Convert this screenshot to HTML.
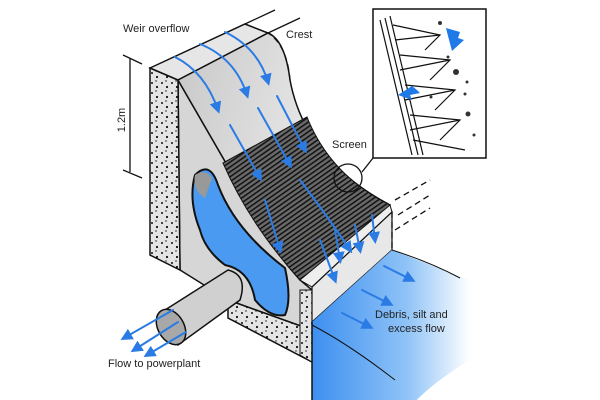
<!DOCTYPE html>
<html><head><meta charset="utf-8"><style>
html,body{margin:0;padding:0;background:#fff;}
svg{display:block}
text{font-family:"Liberation Sans",sans-serif;font-size:11px;fill:#222}
</style></head><body>
<svg width="600" height="400" viewBox="0 0 600 400" xmlns="http://www.w3.org/2000/svg">
<defs>
<marker id="ah" markerWidth="6" markerHeight="6" refX="4" refY="3" orient="auto" markerUnits="strokeWidth">
<path d="M0,0 L6,3 L0,6 Z" fill="#2a7be4"/></marker>
<linearGradient id="surf" x1="0" y1="0" x2="1" y2="0.3">
<stop offset="0" stop-color="#c8c8c8"/><stop offset="1" stop-color="#f4f4f4"/></linearGradient>
<linearGradient id="water" x1="0" y1="0" x2="1" y2="0">
<stop offset="0" stop-color="#3d8ff0"/><stop offset="0.6" stop-color="#8fc3f7"/><stop offset="1" stop-color="#ffffff"/></linearGradient>
<pattern id="dots" width="10" height="10" patternUnits="userSpaceOnUse">
<rect width="10" height="10" fill="#e4e4e4"/>
<circle cx="2" cy="3" r="1" fill="#111"/><circle cx="7" cy="7" r="1.1" fill="#111"/><circle cx="6" cy="1" r=".7" fill="#111"/>
</pattern>
<pattern id="scr" width="4" height="4" patternUnits="userSpaceOnUse" patternTransform="rotate(-35)">
<rect width="4" height="4" fill="#6a6a6a"/><rect width="4" height="1.6" fill="#151515"/></pattern>
</defs>
<polygon points="178,80 230,170 300,280 312,290 312,330 228,300 180,270" fill="#d6d6d6" stroke="#111" stroke-width="1.5"/>
<polygon points="150,68 178,80 180,270 150,255" fill="url(#dots)" stroke="#111" stroke-width="1.5"/>
<polygon points="228,300 312,330 312,362 228,318" fill="url(#dots)" stroke="#111" stroke-width="1.5"/>
<polygon points="300,290 312,290 312,362 300,355" fill="url(#dots)" stroke="#111" stroke-width="1"/>
<polygon points="150,68 245,24 268,33 178,80" fill="#e6e6e6" stroke="#111" stroke-width="1.5"/>
<path d="M178,80 L268,33 Q285,40 290,80 Q305,160 390,205 L312,283 L300,280 Q255,230 230,170 Z" fill="url(#surf)" stroke="#111" stroke-width="1.5"/>
<path d="M223,163 L307,117 Q330,175 390,205 L312,283 L300,280 Q250,225 223,163 Z" fill="url(#scr)" stroke="#111" stroke-width="1"/>
<polygon points="300,280 390,205 392,212 312,287" fill="#eee" stroke="#111" stroke-width="1"/>
<polygon points="312,287 392,212 392,250 312,322" fill="#e8e8e8" stroke="#111" stroke-width="1.2"/>
<path d="M195,175 Q210,160 218,185 Q235,230 285,268 Q292,300 285,315 Q270,318 255,300 Q250,270 225,265 Q205,250 200,230 Q188,200 195,175Z" fill="#4a9af2" stroke="#111" stroke-width="2"/>
<path d="M195,175 Q205,168 212,178 L205,198 Q192,190 195,175Z" fill="#999"/>
<path d="M312,322 L392,250 Q430,265 470,280 L470,360 Q420,390 400,420 L312,400Z" fill="url(#water)"/>
<path d="M312,322 L312,400" stroke="#111" stroke-width="1.5"/>
<path d="M392,250 Q430,262 460,278" stroke="#111" fill="none"/>
<path d="M312,325 Q350,345 395,380" stroke="#111" fill="none"/>
<path d="M165,310 L228,270 Q248,275 240,300 L178,345 Z" fill="#d0d0d0" stroke="#111" stroke-width="1.5"/>
<ellipse cx="171" cy="327" rx="13" ry="19" transform="rotate(-30 171 327)" fill="#a8a8a8" stroke="#111" stroke-width="1.5"/>
<g stroke="#2a7be4" stroke-width="2" fill="none" stroke-linecap="round" marker-end="url(#ah)">
<path d="M173,310 L124,338"/><path d="M178,322 L134,350"/><path d="M186,332 L147,355"/>
<path d="M175,57 Q205,72 218,110"/><path d="M200,44 Q235,58 247,95"/><path d="M225,32 Q258,48 268,82"/>
<path d="M230,125 L260,178"/><path d="M258,108 L290,165"/><path d="M277,96 L305,150"/>
<path d="M265,200 L280,250"/><path d="M300,180 Q330,220 350,250"/><path d="M320,240 L335,280"/>
<path d="M335,230 L340,260"/><path d="M355,225 L360,250"/><path d="M372,215 L375,240"/>
<path d="M384,266 L412,280"/><path d="M362,290 L390,304"/><path d="M342,313 L370,327"/>
</g>
<g stroke="#111" stroke-width="1.3" fill="none" stroke-dasharray="6,4">
<path d="M290,80 Q287,45 268,33"/><path d="M392,212 L392,250"/>
<path d="M395,200 L430,180"/><path d="M398,215 L430,195"/><path d="M395,230 L430,208"/>
</g>
<path d="M245,24 L275,10 M268,33 L300,18" stroke="#111" stroke-width="1.3"/>
<g stroke="#111" stroke-width="1.3"><path d="M123,55 L142,64 M123,170 L142,178 M130,58 L130,172"/></g>
<text x="125" y="120" transform="rotate(-90 125 120)" text-anchor="middle">1.2m</text>
<circle cx="348" cy="178" r="14" fill="none" stroke="#111" stroke-width="1.3"/>
<path d="M362,172 L373,158" stroke="#111" stroke-width="1.3"/>
<rect x="373" y="9" width="113" height="149" fill="#fff" stroke="#111" stroke-width="1.5"/>
<g stroke="#111" stroke-width="1.2" fill="none">
<path d="M380,20 L412,155 M385,18 L418,155 M390,16 L423,155"/>
<path d="M393,25 L440,35 L425,50 M400,55 L450,60 L430,80 M405,85 L455,90 L435,110 M410,115 L460,120 L440,140 M413,140 L465,150"/>
<path d="M395,40 L440,35 M400,70 L450,60 M405,100 L455,90 M410,130 L460,120"/>
</g>
<path d="M446,28 L460,32 L458,38 L464,40 L452,51 L448,36Z" fill="#1f7ae8"/>
<path d="M417,90 L412,86 L398,95 L412,100 L410,95 L420,93Z" fill="#1f7ae8"/>
<g fill="#333"><circle cx="440" cy="23" r="2"/><circle cx="448" cy="57" r="1.5"/><circle cx="456" cy="72" r="3"/><circle cx="467" cy="82" r="1.5"/><circle cx="465" cy="94" r="1.5"/><circle cx="431" cy="97" r="1.5"/><circle cx="468" cy="114" r="2.5"/><circle cx="474" cy="135" r="1.5"/></g>
<text x="123" y="32">Weir overflow</text>
<text x="286" y="38">Crest</text>
<text x="332" y="148">Screen</text>
<text x="375" y="318">Debris, silt and</text>
<text x="388" y="332">excess flow</text>
<text x="108" y="367">Flow to powerplant</text>
</svg>
</body></html>
